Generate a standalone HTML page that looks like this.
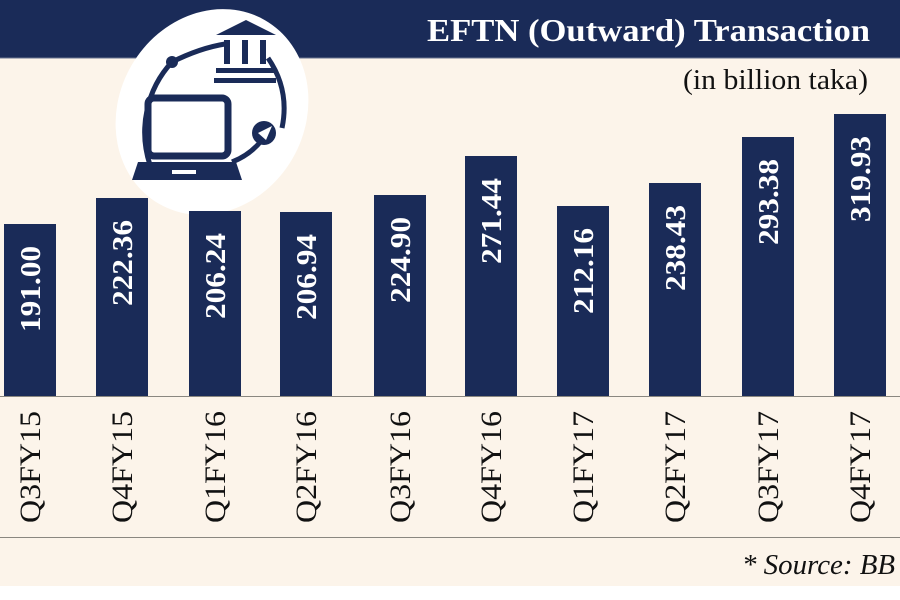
<!DOCTYPE html>
<html><head><meta charset="utf-8"><style>
html,body{margin:0;padding:0;background:#fff;}
svg{display:block;}
</style></head><body>
<svg width="900" height="600" viewBox="0 0 900 600" xmlns="http://www.w3.org/2000/svg">
<rect x="0" y="0" width="900" height="586" fill="#fcf4ea"/>
<rect x="0" y="0" width="900" height="58" fill="#1a2b58"/>
<line x1="0" y1="58" x2="900" y2="58" fill="none" stroke="#6a7590" stroke-width="1"/>
<text x="870" y="41" text-anchor="end" font-family="Liberation Serif, serif" font-weight="bold" font-size="32" fill="#fff" textLength="443" lengthAdjust="spacingAndGlyphs">EFTN (Outward) Transaction</text>
<text x="868" y="89" text-anchor="end" font-family="Liberation Serif, serif" font-size="28" fill="#111" textLength="185" lengthAdjust="spacingAndGlyphs">(in billion taka)</text>

<!-- logo -->
<ellipse cx="212" cy="112" rx="93" ry="106" transform="rotate(30 212 112)" fill="#fff"/>
<g fill="#1a2b58" stroke="#1a2b58">
<path d="M172 62 A95 100 0 0 0 150 165" fill="none" stroke-width="5"/>
<path d="M172 62 Q200 48 225 44" fill="none" stroke-width="5"/>
<path d="M268 58 Q290 90 282 128" fill="none" stroke-width="5"/>
<path d="M262 140 Q250 155 232 162" fill="none" stroke-width="5"/>
<circle cx="172" cy="62" r="6" stroke="none"/>
<circle cx="264" cy="133" r="12" stroke="none"/>
<polygon points="216,35 246,20 276,35" stroke="none"/>
<rect x="224" y="40" width="6" height="24" stroke="none"/>
<rect x="242" y="40" width="6" height="24" stroke="none"/>
<rect x="260" y="40" width="6" height="24" stroke="none"/>
<rect x="216" y="68" width="58" height="5" stroke="none"/>
<rect x="214" y="78" width="62" height="5" stroke="none"/>
<rect x="148" y="98" width="80" height="58" rx="6" fill="none" stroke-width="7"/>
<path d="M138 162 L236 162 L242 180 L132 180 Z" stroke="none"/>
</g>
<rect x="172" y="170" width="24" height="4" fill="#fff"/>
<polygon points="258,133 272,126 266,140" fill="#fff"/>

<g fill="#1a2b58">
<rect x="4" y="224" width="52" height="172"/>
<rect x="96" y="198" width="52" height="198"/>
<rect x="189" y="211" width="52" height="185"/>
<rect x="280" y="212" width="52" height="184"/>
<rect x="374" y="195" width="52" height="201"/>
<rect x="465" y="156" width="52" height="240"/>
<rect x="557" y="206" width="52" height="190"/>
<rect x="649" y="183" width="52" height="213"/>
<rect x="742" y="137" width="52" height="259"/>
<rect x="834" y="114" width="52" height="282"/>
</g>
<line x1="0" y1="396.5" x2="900" y2="396.5" stroke="#8a8780" stroke-width="1"/>
<line x1="0" y1="537.5" x2="900" y2="537.5" stroke="#8a8780" stroke-width="1"/>

<g font-family="Liberation Serif, serif" font-weight="bold" font-size="28" fill="#fff" text-anchor="end">
<text transform="translate(40 246) rotate(-90)" textLength="86" lengthAdjust="spacingAndGlyphs">191.00</text>
<text transform="translate(132 220) rotate(-90)" textLength="86" lengthAdjust="spacingAndGlyphs">222.36</text>
<text transform="translate(225 233) rotate(-90)" textLength="86" lengthAdjust="spacingAndGlyphs">206.24</text>
<text transform="translate(316 234) rotate(-90)" textLength="86" lengthAdjust="spacingAndGlyphs">206.94</text>
<text transform="translate(410 217) rotate(-90)" textLength="86" lengthAdjust="spacingAndGlyphs">224.90</text>
<text transform="translate(501 178) rotate(-90)" textLength="86" lengthAdjust="spacingAndGlyphs">271.44</text>
<text transform="translate(593 228) rotate(-90)" textLength="86" lengthAdjust="spacingAndGlyphs">212.16</text>
<text transform="translate(685 205) rotate(-90)" textLength="86" lengthAdjust="spacingAndGlyphs">238.43</text>
<text transform="translate(778 159) rotate(-90)" textLength="86" lengthAdjust="spacingAndGlyphs">293.38</text>
<text transform="translate(870 136) rotate(-90)" textLength="86" lengthAdjust="spacingAndGlyphs">319.93</text>
</g>
<g font-family="Liberation Serif, serif" font-size="30" fill="#111" text-anchor="start">
<text transform="translate(40 523) rotate(-90)" textLength="112" lengthAdjust="spacingAndGlyphs">Q3FY15</text>
<text transform="translate(132 523) rotate(-90)" textLength="112" lengthAdjust="spacingAndGlyphs">Q4FY15</text>
<text transform="translate(225 523) rotate(-90)" textLength="112" lengthAdjust="spacingAndGlyphs">Q1FY16</text>
<text transform="translate(316 523) rotate(-90)" textLength="112" lengthAdjust="spacingAndGlyphs">Q2FY16</text>
<text transform="translate(410 523) rotate(-90)" textLength="112" lengthAdjust="spacingAndGlyphs">Q3FY16</text>
<text transform="translate(501 523) rotate(-90)" textLength="112" lengthAdjust="spacingAndGlyphs">Q4FY16</text>
<text transform="translate(593 523) rotate(-90)" textLength="112" lengthAdjust="spacingAndGlyphs">Q1FY17</text>
<text transform="translate(685 523) rotate(-90)" textLength="112" lengthAdjust="spacingAndGlyphs">Q2FY17</text>
<text transform="translate(778 523) rotate(-90)" textLength="112" lengthAdjust="spacingAndGlyphs">Q3FY17</text>
<text transform="translate(870 523) rotate(-90)" textLength="112" lengthAdjust="spacingAndGlyphs">Q4FY17</text>
</g>
<text x="895" y="574" text-anchor="end" font-family="Liberation Serif, serif" font-style="italic" font-size="29" fill="#111" textLength="153" lengthAdjust="spacingAndGlyphs">* Source: BB</text>
</svg>
</body></html>
